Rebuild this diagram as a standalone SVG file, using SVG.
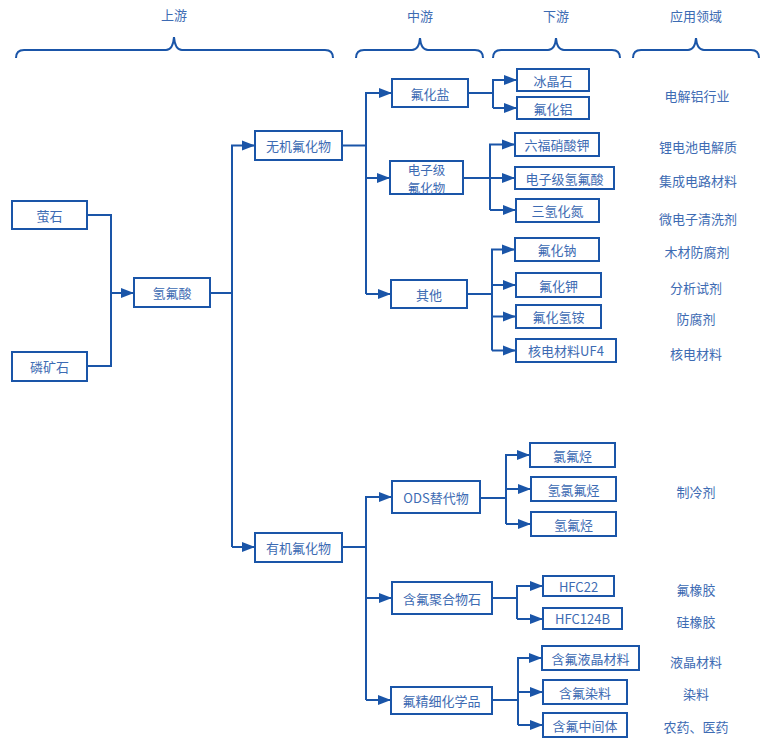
<svg xmlns="http://www.w3.org/2000/svg" width="764" height="741" viewBox="0 0 764 741">
<style>
.box{fill:#fff;stroke:#1a55a8;stroke-width:2}
.t{font-family:"Noto Sans CJK SC","Microsoft YaHei",sans-serif;font-size:13px;fill:#3d6bb3;text-anchor:middle;dominant-baseline:central}
.s{font-size:12.5px}
.c{fill:none;stroke:#1a55a8;stroke-width:2}
.br{fill:none;stroke:#1a55a8;stroke-width:2}
</style>
<defs>
<marker id="ah" markerUnits="userSpaceOnUse" markerWidth="14" markerHeight="12" refX="13" refY="5.5" orient="auto">
<path d="M0,0.5 L13,5.5 L0,10.5 z" fill="#1a55a8"/>
</marker>
</defs>
<rect width="764" height="741" fill="#fff"/>
<g id="headers">
<text class="t" x="174" y="14">上游</text>
<text class="t" x="420" y="15">中游</text>
<text class="t" x="556" y="15">下游</text>
<text class="t" x="696" y="15">应用领域</text>
<path class="br" d="M16,58 Q16,50 24,50 L166,50 Q173,50 174,37 Q175,50 182,50 L325,50 Q333,50 333,58"/>
<path class="br" d="M356,58 Q356,50 364,50 L412,50 Q419,50 420,38 Q421,50 428,50 L475,50 Q483,50 483,58"/>
<path class="br" d="M493,58 Q493,50 501,50 L548,50 Q555,50 556,38 Q557,50 564,50 L612,50 Q620,50 620,58"/>
<path class="br" d="M633,58 Q633,50 641,50 L688,50 Q695,50 696,38 Q697,50 704,50 L751,50 Q759,50 759,58"/>
</g>
<g id="connectors">
<path class="c" d="M87,215 H111 V366 H87"/>
<path class="c" d="M111,293 H134" marker-end="url(#ah)"/>
<path class="c" d="M210,293 H232"/>
<path class="c" d="M232,547 V145.5 H255" marker-end="url(#ah)"/>
<path class="c" d="M232,547 H255" marker-end="url(#ah)"/>
<path class="c" d="M342,145.5 H366"/>
<path class="c" d="M366,294 V93 H392" marker-end="url(#ah)"/>
<path class="c" d="M366,178 H390" marker-end="url(#ah)"/>
<path class="c" d="M366,294 H391" marker-end="url(#ah)"/>
<path class="c" d="M468,93 H493"/>
<path class="c" d="M493,108 V80 H517" marker-end="url(#ah)"/>
<path class="c" d="M493,108 H517" marker-end="url(#ah)"/>
<path class="c" d="M463,178 H490"/>
<path class="c" d="M490,210 V144.5 H515" marker-end="url(#ah)"/>
<path class="c" d="M490,178 H515" marker-end="url(#ah)"/>
<path class="c" d="M490,210 H516" marker-end="url(#ah)"/>
<path class="c" d="M467,294 H492"/>
<path class="c" d="M492,350.5 V249.5 H515" marker-end="url(#ah)"/>
<path class="c" d="M492,285 H516" marker-end="url(#ah)"/>
<path class="c" d="M492,316.5 H516" marker-end="url(#ah)"/>
<path class="c" d="M492,350.5 H516" marker-end="url(#ah)"/>
<path class="c" d="M342,547 H366"/>
<path class="c" d="M366,700 V497 H392" marker-end="url(#ah)"/>
<path class="c" d="M366,598 H392" marker-end="url(#ah)"/>
<path class="c" d="M366,700 H391" marker-end="url(#ah)"/>
<path class="c" d="M480,498 H506"/>
<path class="c" d="M506,524 V455 H530" marker-end="url(#ah)"/>
<path class="c" d="M506,489 H531" marker-end="url(#ah)"/>
<path class="c" d="M506,524 H531" marker-end="url(#ah)"/>
<path class="c" d="M492,598 H517"/>
<path class="c" d="M517,619 V586 H543" marker-end="url(#ah)"/>
<path class="c" d="M517,619 H543" marker-end="url(#ah)"/>
<path class="c" d="M492,700 H518"/>
<path class="c" d="M518,725 V658 H542" marker-end="url(#ah)"/>
<path class="c" d="M518,692 H543" marker-end="url(#ah)"/>
<path class="c" d="M518,725 H543" marker-end="url(#ah)"/>
</g>
<g id="n-yingshi"><rect class="box" x="12" y="201" width="75" height="28"/><text class="t" x="49.5" y="215">萤石</text></g>
<g id="n-linkuangshi"><rect class="box" x="12" y="352" width="75" height="29"/><text class="t" x="49.5" y="366.5">磷矿石</text></g>
<g id="n-qingfusuan"><rect class="box" x="134" y="278" width="76" height="29"/><text class="t" x="172" y="292.5">氢氟酸</text></g>
<g id="n-wuji"><rect class="box" x="255" y="131" width="87" height="29"/><text class="t" x="298.5" y="145.5">无机氟化物</text></g>
<g id="n-youji"><rect class="box" x="255" y="533" width="87" height="29"/><text class="t" x="298.5" y="547.5">有机氟化物</text></g>
<g id="n-fuhuayan"><rect class="box" x="392" y="79" width="76" height="28"/><text class="t" x="430" y="93">氟化盐</text></g>
<g id="n-dianziji"><rect class="box" x="390" y="161" width="73" height="33"/><text class="t s" x="426.5" y="169">电子级</text><text class="t s" x="426.5" y="187">氟化物</text></g>
<g id="n-qita"><rect class="box" x="391" y="280" width="76" height="28"/><text class="t" x="429" y="294">其他</text></g>
<g id="n-bingjingshi"><rect class="box" x="517" y="69" width="72" height="22"/><text class="t" x="553" y="80">冰晶石</text></g>
<g id="n-fuhualv"><rect class="box" x="517" y="97" width="72" height="22"/><text class="t" x="553" y="108">氟化铝</text></g>
<g id="n-liufu"><rect class="box" x="515" y="133" width="84" height="23"/><text class="t" x="557" y="144.5">六福硝酸钾</text></g>
<g id="n-dzjqfs"><rect class="box" x="515" y="167" width="99" height="22"/><text class="t" x="564.5" y="178">电子级氢氟酸</text></g>
<g id="n-sanqinghuadan"><rect class="box" x="516" y="199" width="83" height="23"/><text class="t" x="557.5" y="210.5">三氢化氮</text></g>
<g id="n-fuhuana"><rect class="box" x="515" y="238" width="84" height="23"/><text class="t" x="557" y="249.5">氟化钠</text></g>
<g id="n-fuhuajia"><rect class="box" x="516" y="273" width="85" height="24"/><text class="t" x="558.5" y="285">氟化钾</text></g>
<g id="n-fuhuaqingan"><rect class="box" x="516" y="305" width="85" height="23"/><text class="t" x="558.5" y="316.5">氟化氢铵</text></g>
<g id="n-uf4"><rect class="box" x="516" y="339" width="100" height="23"/><text class="t" x="566" y="350.5">核电材料UF4</text></g>
<g id="n-ods"><rect class="box" x="392" y="481" width="88" height="32"/><text class="t" x="436" y="497">ODS替代物</text></g>
<g id="n-juhewu"><rect class="box" x="392" y="582" width="100" height="32"/><text class="t" x="442" y="598">含氟聚合物石</text></g>
<g id="n-jingxi"><rect class="box" x="391" y="687" width="101" height="27"/><text class="t" x="441.5" y="700.5">氟精细化学品</text></g>
<g id="n-lvfuting"><rect class="box" x="530" y="443" width="85" height="24"/><text class="t" x="572.5" y="455">氯氟烃</text></g>
<g id="n-qlft"><rect class="box" x="531" y="477" width="85" height="24"/><text class="t" x="573.5" y="489">氢氯氟烃</text></g>
<g id="n-qft"><rect class="box" x="531" y="512" width="85" height="24"/><text class="t" x="573.5" y="524">氢氟烃</text></g>
<g id="n-hfc22"><rect class="box" x="543" y="576" width="71" height="20"/><text class="t" x="578.5" y="586">HFC22</text></g>
<g id="n-hfc124b"><rect class="box" x="543" y="608" width="79" height="21"/><text class="t" x="582.5" y="618.5">HFC124B</text></g>
<g id="n-yejing"><rect class="box" x="542" y="646" width="97" height="24"/><text class="t" x="590.5" y="658">含氟液晶材料</text></g>
<g id="n-ranliao"><rect class="box" x="543" y="680" width="84" height="24"/><text class="t" x="585" y="692">含氟染料</text></g>
<g id="n-zhongjianti"><rect class="box" x="543" y="713" width="84" height="24"/><text class="t" x="585" y="725">含氟中间体</text></g>
<g id="applications">
<text class="t" x="697" y="95">电解铝行业</text>
<text class="t" x="698" y="146">锂电池电解质</text>
<text class="t" x="698" y="180">集成电路材料</text>
<text class="t" x="698" y="218">微电子清洗剂</text>
<text class="t" x="697" y="251">木材防腐剂</text>
<text class="t" x="696" y="287">分析试剂</text>
<text class="t" x="696" y="318">防腐剂</text>
<text class="t" x="696" y="353">核电材料</text>
<text class="t" x="696" y="491">制冷剂</text>
<text class="t" x="696" y="589">氟橡胶</text>
<text class="t" x="696" y="621">硅橡胶</text>
<text class="t" x="696" y="661">液晶材料</text>
<text class="t" x="696" y="693">染料</text>
<text class="t" x="696" y="726">农药、医药</text>
</g>
</svg>
